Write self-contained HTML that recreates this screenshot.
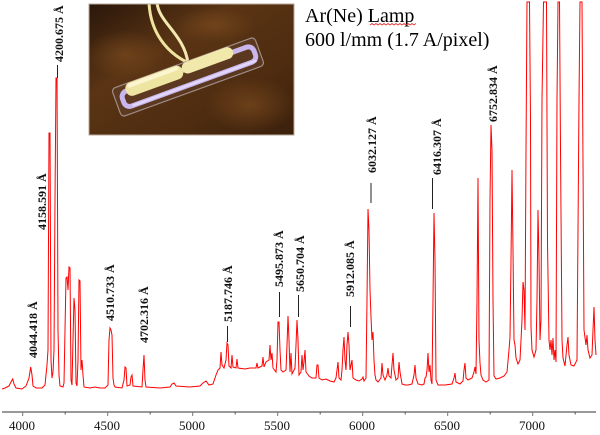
<!DOCTYPE html>
<html>
<head>
<meta charset="utf-8">
<style>
  html,body{margin:0;padding:0;background:#fff;}
  svg{display:block;}
</style>
</head>
<body>
<svg width="600" height="435" viewBox="0 0 600 435" xmlns="http://www.w3.org/2000/svg">
  <defs>
    <linearGradient id="bg" x1="0" y1="0" x2="1" y2="1">
      <stop offset="0" stop-color="#2a170a"/>
      <stop offset="0.35" stop-color="#5a3414"/>
      <stop offset="0.7" stop-color="#4e2c10"/>
      <stop offset="1" stop-color="#3a200c"/>
    </linearGradient>
    <radialGradient id="fold1" cx="0.5" cy="0.5" r="0.5">
      <stop offset="0" stop-color="#7a4a1e" stop-opacity="0.7"/>
      <stop offset="1" stop-color="#7a4a1e" stop-opacity="0"/>
    </radialGradient>
    <clipPath id="pc"><rect x="89" y="4" width="205" height="131"/></clipPath>
  </defs>

  <!-- photo -->
  <g clip-path="url(#pc)">
    <rect x="89" y="4" width="205" height="131" fill="url(#bg)"/>
    <ellipse cx="125" cy="55" rx="40" ry="25" fill="url(#fold1)"/>
    <ellipse cx="250" cy="105" rx="45" ry="28" fill="url(#fold1)"/>
    <ellipse cx="215" cy="25" rx="40" ry="18" fill="url(#fold1)"/>
    <!-- cables -->
    <path d="M149,2 C150,30 165,55 196,66" stroke="#efe3a0" stroke-width="3" fill="none"/>
    <path d="M157,2 C158,22 184,34 188,63" stroke="#f3e9b0" stroke-width="3" fill="none"/>
    <g transform="translate(188,77) rotate(-20)">
      <rect x="-76" y="-15" width="152" height="30" rx="4" fill="#6a4a3a" opacity="0.35"/>
      <rect x="-76" y="-15" width="152" height="30" rx="4" fill="none" stroke="#a08c88" stroke-width="1.2"/>
      <rect x="-69" y="-8" width="140" height="16" rx="6" fill="none" stroke="#c9b6ec" stroke-width="5"/>
      <line x1="-62" y1="8" x2="70" y2="8" stroke="#e2d6fa" stroke-width="2.5"/>
      <rect x="-63" y="-15" width="60" height="14" rx="6" fill="#efe5a2"/>
      <rect x="-3" y="-15" width="54" height="12" rx="6" fill="#f1e8ac"/>
      <rect x="-60" y="-14" width="54" height="4" rx="2" fill="#fbf5d0"/>
    </g>
  </g>
  <rect x="89" y="4" width="205" height="131" fill="none" stroke="#b8a898" stroke-width="1"/>

  <!-- title text -->
  <text x="305" y="22" font-family="Liberation Serif, serif" font-size="20" fill="#000">Ar(Ne) Lamp</text>
  <polyline points="370,25 372,23.5 374,25 376,23.5 378,25 380,23.5 382,25 384,23.5 386,25 388,23.5 390,25 392,23.5 394,25 396,23.5 398,25 400,23.5 402,25 404,23.5 406,25 408,23.5 410,25 412,23.5 414,25 416,23.5" fill="none" stroke="#e03030" stroke-width="0.8"/>
  <text x="305" y="46" font-family="Liberation Serif, serif" font-size="20" fill="#000">600 l/mm (1.7 A/pixel)</text>

  <!-- spectrum -->
  <polyline fill="none" stroke="#ff0000" stroke-width="1" stroke-linejoin="miter" points="
2,389 5,388 9,386 11,382 12.7,379 14,384 16,388 22,389 26,386 29,378 30.7,367 32,375 33,386 36,388 42,388 45,385 47,365 48,350 49,133 50,133 51,360 52,378 53,372 54,350 55,200 56,78 57,78 57.5,200 58,330 59,375 60,386 63,387 64,383 65,330 66,278 67,277 68,290 69,267 70,268 71,380 72,385 73,340 74,298 75,310 76,383 77,386 78,360 79,280 80,281 81,370 82,360 83,375 84,387 90,388 95,387 100,388 105,388 108,385 109,340 110,328 111,330 112,335 113,378 114,385 115,387 122,388 124,380 125,367 126,368 127,386 130,385 131,377 132,375 133,386 142,387 143,370 144,355 145,380 146,387 160,388 170,387 172,384 174,383 176,386 190,387 200,386 203,383 206,381 209,385 213,384 216,375 218,370 220,368 221,352 222,365 224,368 226,360 227,343 228,345 229,366 231,368 232,355 233,367 236,368 237,359 238,368 245,369 250,368 256,368 257,363 258,368 262,366 263,357 264,367 266,362 269,360 270,345 271,360 272,353 273,368 276,372 277,360 278,322 279,322 280,350 281,370 283,372 286,370 287,345 288,316 289,340 290,372 291,353 292,374 295,368 296,345 297,320 298,340 299,375 301,372 302,355 303,370 304,362 305,350 306,372 309,376 312,378 316,378 317,365 318,365 319,378 322,380 326,379 330,381 334,382 336,378 337,370 338,362 339,378 341,380 342,370 343,350 344,337 345,360 346,370 347,345 348,332 349,345 350,370 351,365 352,360 353,378 356,380 359,381 362,379 363,377 364,381 366,378 367,300 368,209 369,230 370,290 371,317 372,340 373,332 374,360 375,375 376,380 378,382 381,378 382,363 383,375 385,380 387,375 388,368 389,376 391,378 392,365 393,353 394,370 396,380 398,378 399,362 400,372 402,384 405,385 408,385 412,384 414,375 415,365 416,378 418,384 422,385 424,384 425,378 426,377 427,370 428,353 429,372 430,365 431,380 432,384 433,300 434,213 435,260 436,380 438,385 445,385 452,384 454,378 455,373 456,382 460,384 463,381 464,370 465,363 466,378 468,380 472,378 474,372 475,367 476,374 477,300 478,178 479,340 480,363 481,375 483,380 486,382 489,380 490,200 491,125 492,150 493,300 494,376 496,379 500,378 504,376 507,372 509,350 510,337 511,260 512,170 513,250 514,340 515,345 516,358 518,364 520,360 522,320 523,282 524,290 525,330 526,150 527,2 528,2 529.5,2 530.5,120 531,327 532,350 534,357 536,350 537,300 538,210 539,260 540,340 541,320 542,100 543.5,2 545,2 546.5,2 547.5,243 549,340 550,350 551,340 552,355 553,338 554,360 555,350 556,362 557,100 558,2 559.5,2 560.5,150 562,340 563,358 565,366 567,345 568,337 569,355 571,365 574,366 577,360 579,100 580,2 582,2 583,163 584,330 586,345 587,335 588,350 590,358 592,355 593,330 594,307 595,340 596,355"/>

  <!-- connector lines -->
  <g stroke="#222" stroke-width="1">
    <line x1="57.5" y1="65" x2="57.5" y2="78"/>
    <line x1="227.5" y1="326" x2="227.5" y2="342"/>
    <line x1="279.5" y1="292" x2="279.5" y2="317"/>
    <line x1="298.5" y1="295" x2="298.5" y2="317"/>
    <line x1="350.5" y1="306" x2="350.5" y2="327"/>
    <line x1="371" y1="183" x2="371" y2="203"/>
    <line x1="432.5" y1="178" x2="432.5" y2="209"/>
  </g>

  <!-- line labels -->
  <g font-family="Liberation Serif, serif" font-size="12" font-weight="bold" fill="#111">
    <text transform="translate(37,358) rotate(-90)">4044.418 Å</text>
    <text transform="translate(46,230) rotate(-90)">4158.591 Å</text>
    <text transform="translate(63,62) rotate(-90)">4200.675 Å</text>
    <text transform="translate(114,321) rotate(-90)">4510.733 Å</text>
    <text transform="translate(148,343) rotate(-90)">4702.316 Å</text>
    <text transform="translate(232,322) rotate(-90)">5187.746 Å</text>
    <text transform="translate(283,287) rotate(-90)">5495.873 Å</text>
    <text transform="translate(304,292) rotate(-90)">5650.704 Å</text>
    <text transform="translate(354,297) rotate(-90)">5912.085 Å</text>
    <text transform="translate(376,173) rotate(-90)">6032.127 Å</text>
    <text transform="translate(441,175) rotate(-90)">6416.307 Å</text>
    <text transform="translate(497,122) rotate(-90)">6752.834 Å</text>
  </g>

  <!-- x axis -->
  <line x1="2" y1="412" x2="596" y2="412" stroke="#333" stroke-width="1"/>
  <g stroke="#777" stroke-width="1">
    <line x1="22.7" y1="412" x2="22.7" y2="416"/>
    <line x1="107.7" y1="412" x2="107.7" y2="416"/>
    <line x1="192.7" y1="412" x2="192.7" y2="416"/>
    <line x1="277.7" y1="412" x2="277.7" y2="416"/>
    <line x1="362.7" y1="412" x2="362.7" y2="416"/>
    <line x1="447.7" y1="412" x2="447.7" y2="416"/>
    <line x1="532.7" y1="412" x2="532.7" y2="416"/>
  </g>
  <g stroke="#555" stroke-width="1">
    <line x1="65.2" y1="412" x2="65.2" y2="414.5"/>
    <line x1="150.2" y1="412" x2="150.2" y2="414.5"/>
    <line x1="235.2" y1="412" x2="235.2" y2="414.5"/>
    <line x1="320.2" y1="412" x2="320.2" y2="414.5"/>
    <line x1="405.2" y1="412" x2="405.2" y2="414.5"/>
    <line x1="490.2" y1="412" x2="490.2" y2="414.5"/>
    <line x1="575.2" y1="412" x2="575.2" y2="414.5"/>
  </g>
  <g font-family="Liberation Serif, serif" font-size="13" fill="#111" text-anchor="middle">
    <text x="22" y="430">4000</text>
    <text x="107" y="430">4500</text>
    <text x="192" y="430">5000</text>
    <text x="277" y="430">5500</text>
    <text x="362" y="430">6000</text>
    <text x="447" y="430">6500</text>
    <text x="532" y="430">7000</text>
  </g>
</svg>
</body>
</html>
